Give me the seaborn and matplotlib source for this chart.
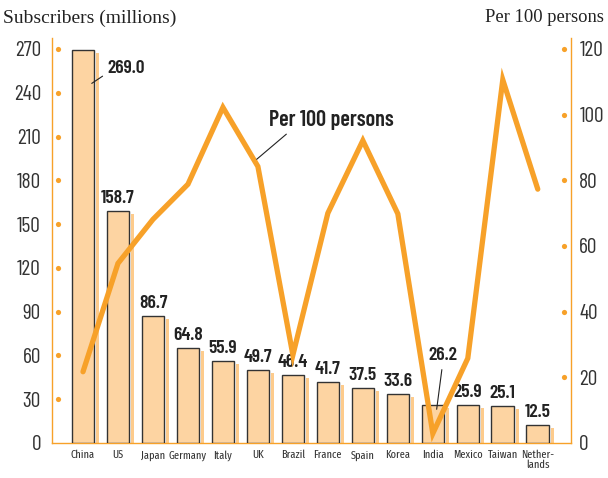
import os
import numpy as np
import pandas as pd
import matplotlib
matplotlib.use("Agg")
import matplotlib.pyplot as plt
import seaborn as sns
from matplotlib import font_manager as fm
from matplotlib.font_manager import FontProperties
from matplotlib.transforms import ScaledTranslation, blended_transform_factory

# ---------------- data ----------------
countries = ["China", "US", "Japan", "Germany", "Italy", "UK", "Brazil", "France",
             "Spain", "Korea", "India", "Mexico", "Taiwan", "Nether-\nlands"]
subscribers = [269.0, 158.7, 86.7, 64.8, 55.9, 49.7, 46.4, 41.7, 37.5, 33.6,
               26.2, 25.9, 25.1, 12.5]
per100 = [21.7, 54.7, 68.1, 78.8, 102.2, 84.2, 26.8, 70.0, 92.1, 69.8,
          2.9, 25.8, 110.6, 77.3]
left_ticks = [0, 30, 60, 90, 120, 150, 180, 210, 240, 270]
right_ticks = [0, 20, 40, 60, 80, 100, 120]
left_title = "Subscribers (millions)"
right_title = "Per 100 persons"
line_label = "Per 100 persons"

# ---------------- style ----------------
sns.set_theme(style="white")
plt.rcParams["font.family"] = ["Liberation Sans", "DejaVu Sans"]


def _w(f):
    try:
        return int(f.weight)
    except Exception:
        return 700 if "bold" in str(f.weight) else 400


def find_font(families, weight):
    for fam in families:
        cands = [f for f in fm.fontManager.ttflist
                 if f.name == fam and f.style == "normal"
                 and "italic" not in os.path.basename(f.fname).lower()]
        if cands:
            best = min(cands, key=lambda f: abs(_w(f) - weight))
            return FontProperties(fname=best.fname)
    return FontProperties(family=["Liberation Sans", "DejaVu Sans"],
                          weight="bold" if weight >= 600 else "normal")


FP_REG = find_font(["Barlow Condensed", "Roboto Condensed", "IBM Plex Sans Condensed"], 400)
FP_BOLD = find_font(["Barlow Condensed", "Roboto Condensed", "IBM Plex Sans Condensed"], 600)
FP_XLAB = find_font(["Fira Sans Extra Condensed", "Barlow Condensed",
                     "Roboto Condensed", "IBM Plex Sans Condensed"], 400)
FP_SERIF = FontProperties(family=["Liberation Serif", "DejaVu Serif"])

ORANGE = "#F7A129"
BAR = "#FDD4A2"
SHADOW = "#FDCB8C"
DARK = "#333333"

fig = plt.figure(figsize=(6.08, 4.78), dpi=100)
renderer = fig.canvas.get_renderer()


def text_w(s, fp, size):
    p = fp.copy()
    p.set_size(size)
    w, h, d = renderer.get_text_width_height_descent(s, p, ismath=False)
    return w


def fit_size(fp, pairs, max_size):
    size = max_size
    for strings, target in pairs:
        w = sum(text_w(s, fp, 10) for s in strings)
        size = min(size, 10 * target / w)
    return size


def with_size(fp, size):
    p = fp.copy()
    p.set_size(size)
    return p


xl_size = fit_size(FP_XLAB, [(["Japan", "Germany"], 70), (["Mexico", "Taiwan"], 69),
                             (["Taiwan", "Nether-"], 69), (["Germany"], 38)], 11.5)
tick_size = fit_size(FP_REG, [(["270"], 29)], 15.5)
val_size = fit_size(FP_BOLD, [(["158.7"], 37)], 14)
ll_size = fit_size(FP_BOLD, [([line_label], 131)], 16)
lt_size = fit_size(FP_SERIF, [([left_title], 178)], 14)
rt_size = fit_size(FP_SERIF, [([right_title], 118)], 14)

df = pd.DataFrame({"country": countries, "subs": subscribers, "per100": per100})
n = len(df)
xpos = np.arange(n)

ax = fig.add_axes([52 / 608, 35 / 478, 519 / 608, 405 / 478])

sns.barplot(data=df, x="country", y="subs", ax=ax, color=BAR, saturation=1,
            width=0.646, edgecolor=DARK, linewidth=1, zorder=3)
main_bars = ax.containers[0]

# shadow strips to the right of each bar
shadows = ax.bar(xpos + 0.415, df["subs"], width=0.1, color=SHADOW, linewidth=0, zorder=2)
for p in shadows:
    p.set_transform(ax.transData + ScaledTranslation(0, -3 / 100, fig.dpi_scale_trans))

ax2 = ax.twinx()
sns.lineplot(x=xpos, y=df["per100"], ax=ax2, color=ORANGE, linewidth=3.8,
             sort=False, solid_joinstyle="miter", solid_capstyle="round")

ax.set_xlabel("")
ax.set_ylabel("")
ax2.set_ylabel("")
ax.grid(False)
ax2.grid(False)

ax.set_yticks(left_ticks)
ax2.set_yticks(right_ticks)
ax.tick_params(axis="y", length=0, pad=8, labelcolor=DARK)
ax2.tick_params(axis="y", length=0, pad=6, labelcolor=DARK)
ax.tick_params(axis="x", length=0, pad=5, labelcolor=DARK)
for lab in ax.get_yticklabels() + ax2.get_yticklabels():
    lab.set_fontproperties(with_size(FP_REG, tick_size))
for lab in ax.get_xticklabels():
    lab.set_fontproperties(with_size(FP_XLAB, xl_size))
    lab.set_linespacing(0.85)

for s in ["top", "right"]:
    ax.spines[s].set_visible(False)
for s in ["left", "bottom"]:
    ax.spines[s].set_color(ORANGE)
    ax.spines[s].set_linewidth(1)
for s in ["top", "left", "bottom"]:
    ax2.spines[s].set_visible(False)
ax2.spines["right"].set_color(ORANGE)
ax2.spines["right"].set_linewidth(1)

# tick dots inside the axes
tl = blended_transform_factory(ax.transAxes, ax.transData)
ax.scatter([0.0116] * (len(left_ticks) - 1), left_ticks[1:], transform=tl,
           s=14, color=ORANGE, linewidths=0, clip_on=False, zorder=5)
tr = blended_transform_factory(ax2.transAxes, ax2.transData)
ax2.scatter([0.9865] * (len(right_ticks) - 1), right_ticks[1:], transform=tr,
            s=14, color=ORANGE, linewidths=0, clip_on=False, zorder=5)

ax.set_ylim(0, 277.5)
ax2.set_ylim(0, 277.5 * 120 / 270)
ax.set_xlim(-0.886, 13.95)

# value labels
special = {"China", "India"}
labels = ["" if c in special else f"{v:.1f}" for c, v in zip(countries, subscribers)]
ax.bar_label(main_bars, labels=labels, padding=3, fontproperties=with_size(FP_BOLD, val_size),
             color="#222222")

# China label with leader line
ci = countries.index("China")
ax.annotate(f"{subscribers[ci]:.1f}", xy=(ci + 0.25, subscribers[ci] - 22.6),
            xytext=(11, 11), textcoords="offset points", ha="left", va="center",
            fontproperties=with_size(FP_BOLD, val_size), color="#222222", zorder=6,
            arrowprops=dict(arrowstyle="-", color="#222222", lw=0.8,
                            shrinkA=1, shrinkB=0, relpos=(0, 0.2)))
# India label with leader line
ii = countries.index("India")
ax.annotate(f"{subscribers[ii]:.1f}", xy=(ii + 0.11, subscribers[ii] - 3.1),
            xytext=(4.3, 39), textcoords="offset points", ha="center", va="center",
            fontproperties=with_size(FP_BOLD, val_size), color="#222222", zorder=6,
            arrowprops=dict(arrowstyle="-", color="#222222", lw=0.8,
                            shrinkA=2, shrinkB=0, relpos=(0.5, 0)))
# line label
ui = countries.index("UK")
ax2.annotate(line_label, xy=(ui - 0.034, 86.4), xytext=(53.5, 28.3),
             textcoords="offset points", ha="center", va="center",
             fontproperties=with_size(FP_BOLD, ll_size), color="#222222", zorder=6,
             arrowprops=dict(arrowstyle="-", color="#222222", lw=0.8,
                             shrinkA=1, shrinkB=0, relpos=(0.2, 0.1)))

fig.text(3 / 608, 1 - 18 / 478, left_title, fontproperties=with_size(FP_SERIF, lt_size),
         ha="left", va="center", color="#222222")
fig.text(604 / 608, 1 - 18 / 478, right_title, fontproperties=with_size(FP_SERIF, rt_size),
         ha="right", va="center", color="#222222")

fig.savefig("out.png", dpi=100)
